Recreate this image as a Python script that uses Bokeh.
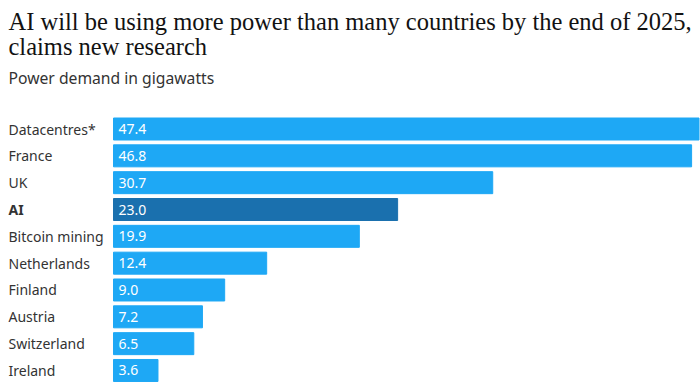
from bokeh.plotting import figure
from bokeh.models import ColumnDataSource, Label, Range1d
from bokeh.core.properties import value, field
from bokeh.embed import file_html
from bokeh.resources import INLINE

# ---- data ----
categories = ["Datacentres*", "France", "UK", "AI", "Bitcoin mining",
              "Netherlands", "Finland", "Austria", "Switzerland", "Ireland"]
power_gw = [47.4, 46.8, 30.7, 23.0, 19.9, 12.4, 9.0, 7.2, 6.5, 3.6]
highlight = "AI"

title_line1 = "AI will be using more power than many countries by the end of 2025,"
title_line2 = "claims new research"
subtitle = "Power demand in gigawatts"

# ---- styles ----
BRIGHT = "#1ea8f5"
DARK = "#1a70ae"
SERIF = "Liberation Serif"
SANS = "Noto Sans"
W, H = 700, 385

colors = [DARK if c == highlight else BRIGHT for c in categories]
styles = ["bold" if c == highlight else "normal" for c in categories]
labels = [f"{v:.1f}" for v in power_gw]
rows = [-i for i in range(len(categories))]   # top-to-bottom order

src = ColumnDataSource(dict(cat=categories, val=power_gw, row=rows, color=colors,
                            style=styles, label=labels,
                            zero=[0.0] * len(categories)))

p = figure(width=W, height=H,
           y_range=Range1d(-9.56, 4.79),
           x_range=Range1d(-9.148, 47.52),
           output_backend="svg", toolbar_location=None,
           x_axis_location=None, y_axis_location=None,
           min_border=0, outline_line_color=None)
p.xgrid.visible = False
p.ygrid.visible = False

p.hbar(y="row", left=0, right="val", height=0.82, color="color", source=src)

p.text(x="zero", y="row", text="cat", source=src, x_offset=-105,
       text_font=value(SANS), text_font_size="14px",
       text_font_style=field("style"), text_color="#333333",
       text_align="left", text_baseline="middle")

p.text(x="zero", y="row", text="label", source=src, x_offset=5,
       text_font=value(SANS), text_font_size="14px", text_color="white",
       text_align="left", text_baseline="middle")

for txt, base, font, size, color in [
        (title_line1, 21, SERIF, "24.5px", "#121212"),
        (title_line2, 46, SERIF, "24.5px", "#121212"),
        (subtitle, 77, SANS, "15.7px", "#333333")]:
    p.add_layout(Label(x=8, y=H - base, x_units="screen", y_units="screen",
                       text=txt, text_font=font, text_font_size=size,
                       text_color=color, text_align="left",
                       text_baseline="alphabetic"))

open("out.html", "w").write(file_html(p, INLINE))
